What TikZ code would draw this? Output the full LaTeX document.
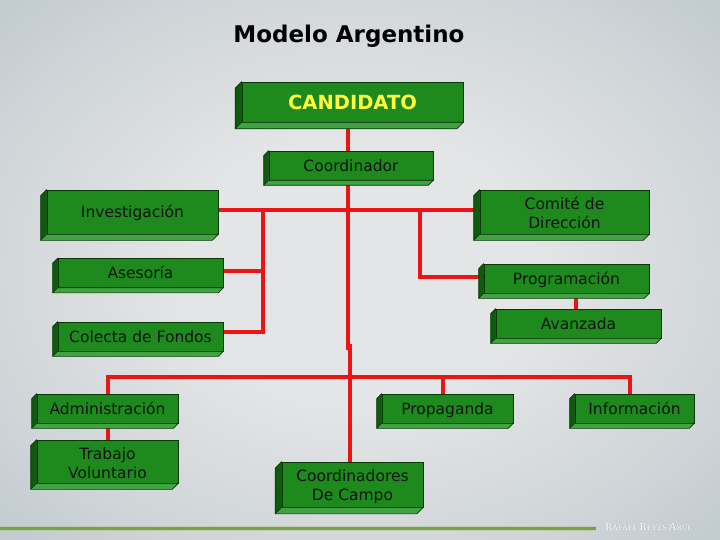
\documentclass[tikz,border=0pt]{standalone}
\usepackage{fontspec}
\setmainfont{DejaVu Sans}
\newfontfamily\sigfont{Liberation Serif}
\usetikzlibrary{calc}
\definecolor{frontg}{RGB}{30,138,30}
\definecolor{leftg}{RGB}{12,92,12}
\definecolor{bottomg}{RGB}{64,162,64}
\definecolor{edgeg}{RGB}{10,55,10}
\definecolor{linered}{RGB}{236,20,20}
\definecolor{bgin}{RGB}{228,229,230}
\definecolor{bgm1}{RGB}{206,212,215}
\definecolor{bgm2}{RGB}{178,191,199}
\definecolor{bgout}{RGB}{160,178,188}
\definecolor{txt}{RGB}{10,20,10}
\definecolor{candy}{RGB}{255,255,60}
\definecolor{rulegreen}{RGB}{118,164,66}
\pgfdeclareradialshading{bgshade}{\pgfpoint{0bp}{0bp}}{color(0bp)=(bgin); color(12bp)=(bgin); color(28bp)=(bgm1); color(44bp)=(bgm2); color(58bp)=(bgout); color(75bp)=(bgout)}
\pgfdeclarelayer{back}
\pgfdeclarelayer{wires}
\pgfsetlayers{back,wires,main}
\tikzset{
  gbox/.style={draw=edgeg, line width=0.6pt, fill=frontg, inner sep=0pt, text=txt,
    font=\fontsize{15.5}{19}\selectfont, align=center},
  oneline/.style={text height=11.3pt, text depth=0pt},
  gsz/.style 2 args={minimum width=#1pt, minimum height=#2pt},
  wire/.style={draw=linered, line width=4pt},
  leftface/.style={fill=leftg, draw=edgeg, line width=0.6pt, line join=round},
  botface/.style={fill=bottomg, draw=edgeg, line width=0.6pt, line join=round},
  sigstyle/.style={anchor=base west, font=\sigfont},
}
\newcommand\boxfaces[2]{%
  \path[leftface] (#1.north west) -- ++(-#2,#2) -- ($(#1.south west)+(-#2,#2)$) -- (#1.south west) -- cycle;
  \path[botface] (#1.south west) -- ($(#1.south west)+(-#2,#2)$) -- ($(#1.south east)+(-#2,#2)$) -- (#1.south east) -- cycle;
}
\newcommand\sigtext{{\fontsize{10.8}{12}\selectfont R}{\fontsize{8}{9}\selectfont AFAEL }{\fontsize{10.8}{12}\selectfont R}{\fontsize{8}{9}\selectfont EYES }{\fontsize{10.8}{12}\selectfont A}{\fontsize{8}{9}\selectfont RCE}}
\begin{document}
\begin{tikzpicture}[x=1pt,y=-1pt]
\useasboundingbox (0,0) rectangle (720,540);
\begin{pgfonlayer}{back}
  \shade[shading=bgshade] (0,0) rectangle (720,540);
  \draw[rulegreen!60!white, line width=5pt, opacity=0.5] (0,528.5) -- (596,528.5);
  \draw[rulegreen, line width=2.5pt] (0,528.5) -- (596,528.5);
\end{pgfonlayer}

% title
\node[anchor=base, font=\fontsize{23}{27}\selectfont\bfseries, text=black] (title) at (349,43) {Modelo Argentino};

% boxes
\node[gbox, gsz={221}{40}, font=\fontsize{19.5}{23}\selectfont\bfseries, text=candy, text height=14.2pt, text depth=0pt] (cand) at (352.5,102) {CANDIDATO};
\boxfaces{cand}{6.5}
\node[gbox, oneline, gsz={164}{29}] (coord) at (351,165.5) {Coordinador};
\boxfaces{coord}{5}
\node[gbox, oneline, gsz={171}{44}] (inv) at (132.5,212) {Investigación};
\boxfaces{inv}{6}
\node[gbox, oneline, gsz={165}{29}] (ases) at (140.5,273) {Asesoría};
\boxfaces{ases}{5}
\node[gbox, oneline, gsz={165}{29}] (colecta) at (140.5,336.5) {Colecta de Fondos};
\boxfaces{colecta}{5}
\node[gbox, gsz={169}{44}] (comite) at (564.5,212) {\rule{0pt}{13.8pt}Comité de\\Dirección};
\boxfaces{comite}{6}
\node[gbox, oneline, gsz={165}{29}] (prog) at (566.5,278.5) {Programación};
\boxfaces{prog}{5}
\node[gbox, oneline, gsz={165}{29}] (avan) at (578.5,323.5) {Avanzada};
\boxfaces{avan}{5}
\node[gbox, oneline, gsz={141}{29}] (admin) at (107.5,408.5) {Administración};
\boxfaces{admin}{5}
\node[gbox, gsz={141}{43}] (trab) at (107.5,461.5) {\rule{0pt}{15.8pt}Trabajo\\Voluntario};
\boxfaces{trab}{6}
\node[gbox, oneline, gsz={131}{29}] (prop) at (447.5,408.5) {Propaganda};
\boxfaces{prop}{5}
\node[gbox, oneline, gsz={119}{29}] (info) at (634.5,408.5) {Información};
\boxfaces{info}{5}
\node[gbox, gsz={141}{45}] (campo) at (352.5,484.5) {\rule{0pt}{16pt}Coordinadores\\De Campo};
\boxfaces{campo}{6.5}

% connectors
\coordinate (trunk) at (348,0);
\coordinate (joga) at (348,350);
\coordinate (jogb) at (350,344);
\coordinate (lbus) at (263,0);
\coordinate (rbus) at (420,0);
\coordinate (pa) at (576,0);
\coordinate (lowbus) at (0,377);
\begin{pgfonlayer}{wires}
  \draw[wire] (trunk |- cand.south) -- (trunk |- coord.north);
  \draw[wire] (trunk |- coord.south) -- (joga);
  \draw[wire] (jogb) -- (jogb |- campo.north);
  \draw[wire] ([yshift=2pt]inv.east) -- ([yshift=2pt]comite.west);
  \draw[wire] ([yshift=2pt]lbus |- inv.east) -- ([yshift=4.5pt]lbus |- colecta.east) -- ([yshift=4.5pt]colecta.east);
  \draw[wire] ([yshift=2pt]ases.east) -- ([yshift=2pt]lbus |- ases.east);
  \draw[wire] ([yshift=2pt]rbus |- comite.west) -- ([yshift=1.5pt]rbus |- prog.west) -- ([yshift=1.5pt]prog.west);
  \draw[wire] (pa |- prog.south) -- (pa |- avan.north);
  \draw[wire] (admin.north) |- ([xshift=-4.5pt]info.north |- lowbus) -- ([xshift=-4.5pt]info.north);
  \draw[wire] ([xshift=-4.5pt]prop.north) -- ([xshift=-4.5pt]prop.north |- lowbus);
  \draw[wire] (admin.south) -- (trab.north);
\end{pgfonlayer}

% signature
\node[sigstyle, text=black!35] (sigshadow) at (602.5,530.5) {\sigtext};
\node[sigstyle, text=white] (sig) at (602,530) {\sigtext};
\end{tikzpicture}
\end{document}
